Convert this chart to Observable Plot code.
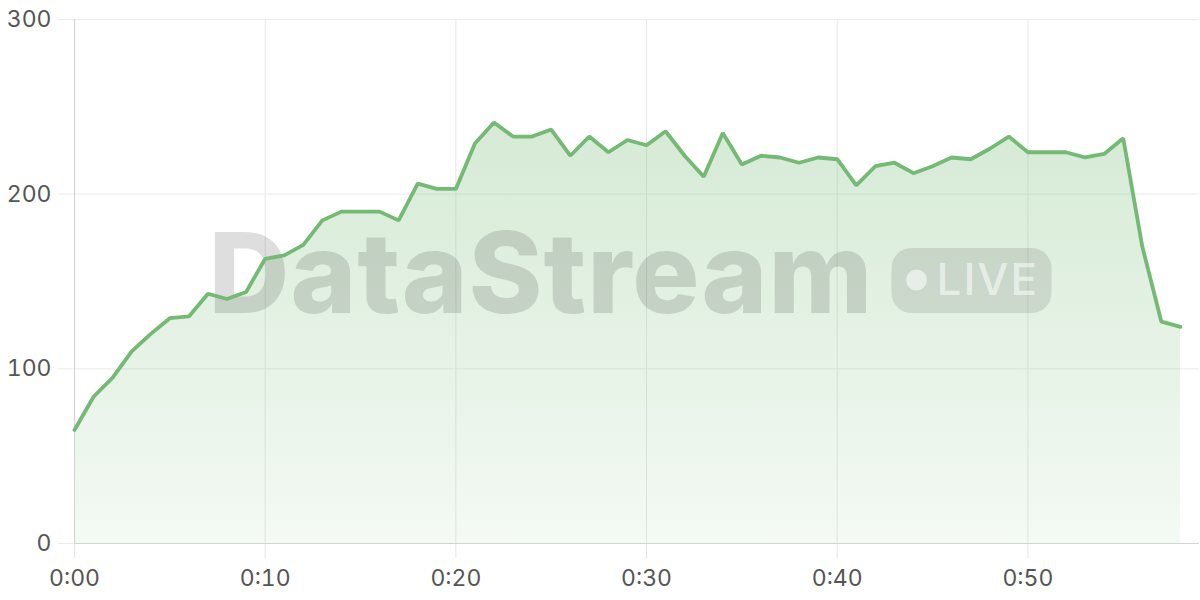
<!DOCTYPE html>
<html>
<head>
<meta charset="utf-8">
<script src="https://cdn.jsdelivr.net/npm/d3@7"></script>
<script src="https://cdn.jsdelivr.net/npm/@observablehq/plot@0.6"></script>
<style>
  html, body { margin: 0; padding: 0; background: #fff; }
  #chart { width: 1200px; height: 600px; }
</style>
</head>
<body>
<div id="chart"></div>
<script>
// Values per minute, from 0:00 to 0:58
const values = [
  65, 84, 95, 110, 120, 129, 130, 143, 140, 144,
  163, 165, 171, 185, 190, 190, 190, 185, 206, 203,
  203, 229, 241, 233, 233, 237, 222, 233, 224, 231,
  228, 236, 222, 210, 235, 217, 222, 221, 218, 221,
  220, 205, 216, 218, 212, 216, 221, 220, 226, 233,
  224, 224, 224, 221, 223, 232, 170, 127, 124
];
const xTicks = [0, 10, 20, 30, 40, 50];
const yTicks = [0, 100, 200, 300];
const watermarkText = "DataStream";
const badgeText = "LIVE";

const data = values.map((v, i) => ({minute: i, value: v}));
const fmt = d => `0:${String(d).padStart(2, "0")}`;

const lineColor = "#74b974";
const font = "Inter, 'Noto Sans', sans-serif";

function gradientDefs() {
  const defs = d3.create("svg:defs");
  const g = defs.append("linearGradient")
    .attr("id", "areaGrad").attr("x1", 0).attr("y1", 0).attr("x2", 0).attr("y2", 1);
  g.append("stop").attr("offset", "0%").attr("stop-color", lineColor).attr("stop-opacity", 0.3);
  g.append("stop").attr("offset", "100%").attr("stop-color", lineColor).attr("stop-opacity", 0.08);
  return defs.node();
}

function watermark(index, scales, values, dim) {
  const cx = dim.marginLeft + (dim.width - dim.marginLeft - dim.marginRight) / 2;
  const cy = dim.marginTop + (dim.height - dim.marginTop - dim.marginBottom) / 2;
  const g = d3.create("svg:g").attr("pointer-events", "none").attr("text-anchor", "start");
  g.append("text")
    .attr("x", cx - 428).attr("y", cy + 32)
    .attr("text-anchor", "start")
    .attr("font-family", font).attr("font-weight", 800)
    .attr("font-size", 112).attr("letter-spacing", 1)
    .attr("fill", "#000").attr("fill-opacity", 0.13)
    .text(watermarkText);
  const bx = cx + 255, by = cy - 33;
  g.append("rect")
    .attr("x", bx).attr("y", by).attr("width", 160).attr("height", 65)
    .attr("rx", 20).attr("fill", "#000").attr("fill-opacity", 0.1);
  g.append("circle")
    .attr("cx", bx + 25).attr("cy", by + 32).attr("r", 10.5)
    .attr("fill", "#fff").attr("fill-opacity", 0.55);
  g.append("text")
    .attr("x", bx + 45).attr("y", by + 47)
    .attr("text-anchor", "start")
    .attr("font-family", font).attr("font-weight", 500)
    .attr("font-size", 44).attr("letter-spacing", 2)
    .attr("fill", "#fff").attr("fill-opacity", 0.55)
    .text(badgeText);
  return g.node();
}

const chart = Plot.plot({
  width: 1200,
  height: 600,
  marginLeft: 74,
  marginRight: 1,
  marginTop: 19,
  marginBottom: 57,
  style: {fontFamily: font, fontSize: "23px", color: "#555", background: "#fff"},
  x: {domain: [0, 59], ticks: xTicks, tickFormat: fmt, label: null},
  y: {domain: [0, 300], ticks: yTicks, label: null},
  marks: [
    gradientDefs,
    Plot.gridX(xTicks, {stroke: "#e8e8e8", strokeOpacity: 1}),
    Plot.gridY(yTicks, {stroke: "#ebebeb", strokeOpacity: 1}),
    Plot.areaY(data, {x: "minute", y: "value", fill: "url(#areaGrad)", curve: "linear"}),
    watermark,
    Plot.axisX(xTicks, {tickSize: 15, tickPadding: 11, stroke: "#e6e6e6", fill: "#555", fontSize: 23, tickFormat: fmt}),
    Plot.axisY(yTicks, {tickSize: 16, tickPadding: 7, stroke: "#ebebeb", fill: "#555", fontSize: 23}),
    Plot.ruleX([0], {stroke: "#d2d2d2"}),
    Plot.ruleY([0], {stroke: "#d2d6d2"}),
    Plot.lineY(data, {x: "minute", y: "value", stroke: lineColor, strokeWidth: 3.8, curve: "linear", strokeLinejoin: "miter"})
  ]
});
document.getElementById("chart").appendChild(chart);
</script>
</body>
</html>
